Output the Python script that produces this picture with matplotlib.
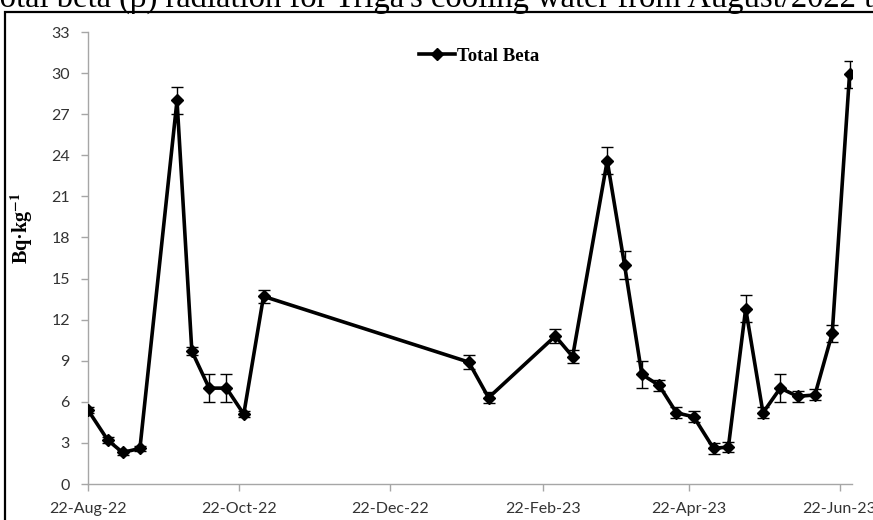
import datetime as dt

import matplotlib
matplotlib.use("Agg")
import matplotlib.dates as mdates
import matplotlib.pyplot as plt
from matplotlib.patches import Rectangle

# sampling dates and Total Beta activity (Bq/kg) with uncertainties
dates = [
    "2022-08-22", "2022-08-30", "2022-09-05", "2022-09-12", "2022-09-27",
    "2022-10-03", "2022-10-10", "2022-10-17", "2022-10-24", "2022-11-01",
    "2023-01-23", "2023-01-31", "2023-02-27", "2023-03-06", "2023-03-20",
    "2023-03-27", "2023-04-03", "2023-04-10", "2023-04-17", "2023-04-24",
    "2023-05-02", "2023-05-08", "2023-05-15", "2023-05-22", "2023-05-29",
    "2023-06-05", "2023-06-12", "2023-06-19", "2023-06-26",
]
total_beta = [
    5.4, 3.2, 2.3, 2.6, 28.0,
    9.7, 7.0, 7.0, 5.1, 13.7,
    8.9, 6.3, 10.8, 9.3, 23.6,
    16.0, 8.0, 7.2, 5.2, 4.9,
    2.6, 2.7, 12.8, 5.2, 7.0,
    6.4, 6.5, 11.0, 29.9,
]
beta_err = [
    0.2, 0.2, 0.2, 0.2, 1.0,
    0.3, 1.0, 1.0, 0.2, 0.5,
    0.5, 0.4, 0.5, 0.5, 1.0,
    1.0, 1.0, 0.4, 0.4, 0.4,
    0.4, 0.4, 1.0, 0.4, 1.0,
    0.4, 0.4, 0.6, 1.0,
]
y_ticks = [0, 3, 6, 9, 12, 15, 18, 21, 24, 27, 30, 33]
x_start, x_end = "2022-08-22", "2023-06-27"

title = "Total beta (\u03b2) radiation for Triga's cooling water from August/2022 to June/2023"

plt.rcParams["mathtext.fontset"] = "stix"

W, H = 873, 520
fig = plt.figure(figsize=(W / 100, H / 100), dpi=100)

# outer frame (cropped figure border)
fig.patches.append(Rectangle((5 / W, -0.1), 2.0, (H - 12) / H + 0.1,
                             transform=fig.transFigure, fill=False,
                             edgecolor="black", linewidth=1.6))
fig.text(-18 / W, 1 - 7 / H, title, family="Liberation Serif", fontsize=23.5,
         ha="left", va="baseline", color="black")

ax = fig.add_axes([88 / W, 36 / H, (852 - 88) / W, (484 - 32) / H])
x = [dt.datetime.strptime(d, "%Y-%m-%d") for d in dates]

ax.errorbar(x, total_beta, yerr=beta_err, fmt="none", ecolor="black",
            elinewidth=1.0, capsize=4, capthick=1.0, zorder=2)
ax.plot(x, total_beta, color="black", linewidth=2.6, marker="D",
        markersize=6.5, label="Total Beta", zorder=3)

ax.set_xlim(dt.datetime.strptime(x_start, "%Y-%m-%d"),
            dt.datetime.strptime(x_end, "%Y-%m-%d"))
ax.set_ylim(0, 33)
ax.set_yticks(y_ticks)
ax.xaxis.set_major_locator(mdates.MonthLocator(bymonth=[2, 4, 6, 8, 10, 12], bymonthday=22))
ax.xaxis.set_major_formatter(mdates.DateFormatter("%d-%b-%y"))

for side in ("top", "right"):
    ax.spines[side].set_visible(False)
for side in ("left", "bottom"):
    ax.spines[side].set_color("#a6a6a6")
    ax.spines[side].set_linewidth(1.0)
ax.tick_params(colors="#a6a6a6", labelcolor="#333333", length=5, width=1.0,
               direction="out", labelsize=11.5)
ax.tick_params(axis="x", pad=8)
ax.tick_params(axis="y", pad=8)
for lbl in ax.get_xticklabels() + ax.get_yticklabels():
    lbl.set_family("Lato")

ax.set_ylabel("Bq\u00b7kg$^{\\mathbf{-1}}$", family="Liberation Serif",
              fontweight="bold", fontsize=14.5)
ax.yaxis.set_label_coords((35 - 88) / 764, (484 - 228) / 452)

ax.legend(loc="center left", bbox_to_anchor=(419 / W, 1 - 56 / H),
          bbox_transform=fig.transFigure, frameon=False, borderpad=0,
          borderaxespad=0, handlelength=1.9, handletextpad=0.15,
          prop={"family": "Liberation Serif", "weight": "bold", "size": 13.5})

fig.savefig("out.png", dpi=100)
